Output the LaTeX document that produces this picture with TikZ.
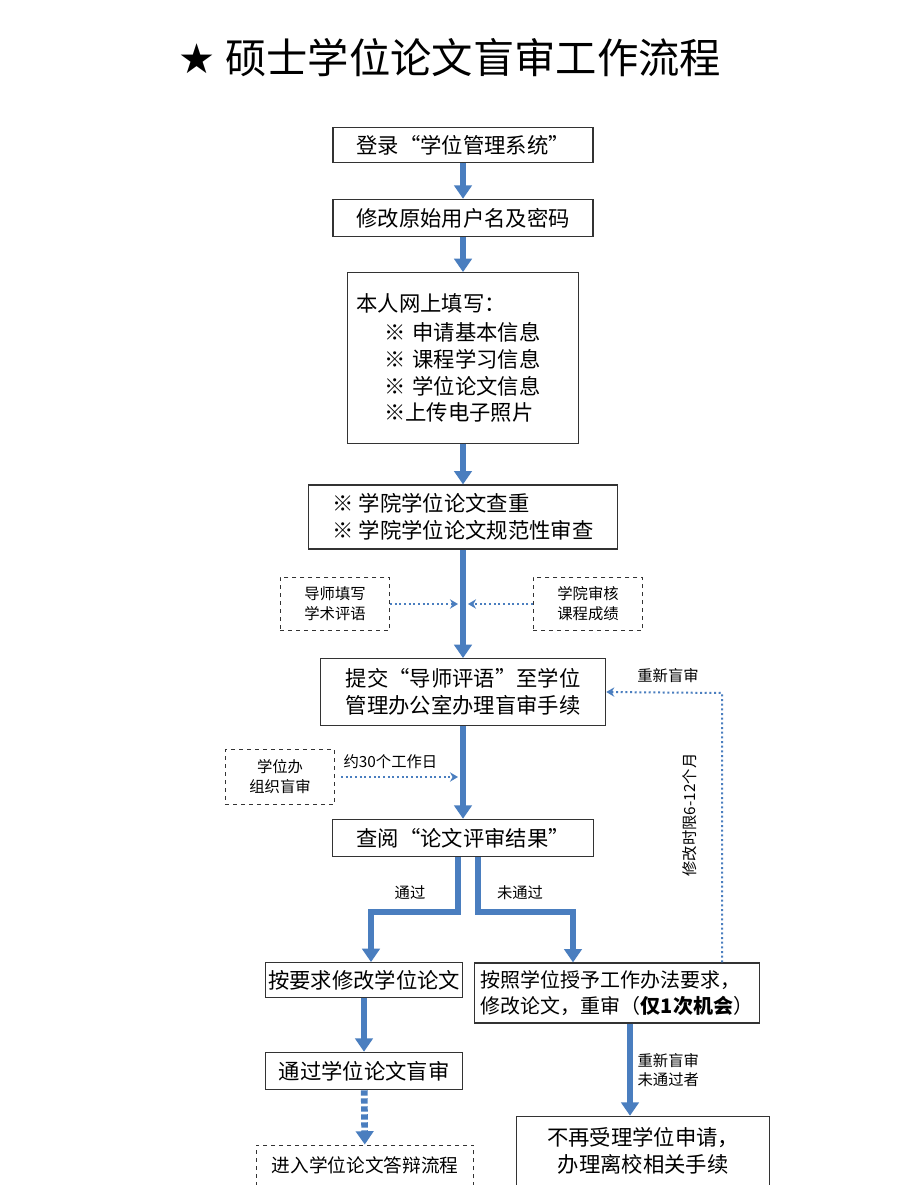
\documentclass[tikz,border=0pt]{standalone}
\usepackage{fontspec}
\setmainfont{Noto Sans CJK SC}
\newfontfamily\sym{DejaVu Sans}
\usetikzlibrary{arrows.meta}
\definecolor{fb}{HTML}{4A7EBF}
\begin{document}
\begin{tikzpicture}[x=0.75pt,y=-0.75pt,
 box/.style={draw=black!80,line width=0.9pt,inner sep=0pt,font=\fontsize{16}{20}\selectfont,align=center},
 dbox/.style={draw=black!80,dashed,line width=0.7pt,inner sep=0pt,font=\fontsize{11.5}{15}\selectfont,align=center},
 big/.style={draw=fb,line width=4pt,-{Triangle[width=13pt,length=10pt]}},
 dot/.style={draw=fb,line width=1.5pt,dotted,-{Stealth[width=7pt,length=6pt]}},
 lab/.style={font=\fontsize{11.5}{14}\selectfont,inner sep=1pt,align=left}]
\useasboundingbox (0,0) rectangle (898,1185);
\fill[white] (0,0) rectangle (898,1185);
\node[font=\fontsize{31}{36}\selectfont] (title) at (450,58) {{\sym ★} 硕士学位论文盲审工作流程};
\node[box,minimum width=195pt,minimum height=26pt] (a) at (463,145) {登录“学位管理系统”};
\node[box,minimum width=195pt,minimum height=28pt] (b) at (463,218) {修改原始用户名及密码};
\node[box,minimum width=173pt,minimum height=128pt,align=left,text width=160pt] (c) at (463,358) {本人网上填写：\\[2pt]\hspace{1.3em}※ 申请基本信息\\\hspace{1.3em}※ 课程学习信息\\\hspace{1.3em}※ 学位论文信息\\\hspace{1.3em}※上传电子照片};
\node[box,minimum width=232pt,minimum height=48pt,align=left] (d) at (463,517) {※ 学院学位论文查重\\※ 学院学位论文规范性审查};
\node[dbox,minimum width=82pt,minimum height=40pt] (e1) at (335,604) {导师填写\\学术评语};
\node[dbox,minimum width=82pt,minimum height=40pt] (e2) at (588,604) {学院审核\\课程成绩};
\node[box,minimum width=214pt,minimum height=50pt] (f) at (463,692) {提交“导师评语”至学位\\管理办公室办理盲审手续};
\node[dbox,minimum width=82pt,minimum height=41pt] (g) at (280,777) {学位办\\组织盲审};
\node[box,minimum width=196pt,minimum height=28pt] (h) at (463,838) {查阅“论文评审结果”};
\node[box,minimum width=148pt,minimum height=26pt] (i) at (364,980) {按要求修改学位论文};
\node[box,minimum width=214pt,minimum height=45pt,align=left,font=\fontsize{15}{19}\selectfont] (j) at (617,993) {按照学位授予工作办法要求，\\修改论文，重审（\textbf{仅1次机会}）};
\node[box,minimum width=148pt,minimum height=28pt] (k) at (364,1071) {通过学位论文盲审};
\node[dbox,minimum width=163pt,minimum height=30pt,font=\fontsize{14}{18}\selectfont] (l) at (365,1165) {进入学位论文答辩流程};
\node[box,minimum width=190pt,minimum height=52pt] (m) at (643,1151) {不再受理学位申请，\\办理离校相关手续};
\draw[big] (a) -- (b);
\draw[big] (b) -- (c);
\draw[big] (c) -- (d);
\draw[big] (d) -- (f);
\draw[big] (f) -- (h);
\draw[big] (h.south -| 458,0) |- (371,912) -- (i.north -| 371,0);
\draw[big] (h.south -| 478,0) |- (573,912) -- (j.north -| 573,0);
\draw[big] (i) -- (k);
\draw[big,dotted,line width=5pt] (k) -- (l);
\draw[big] (j.south -| 630,0) -- (m.north -| 630,0);
\draw[dot] (e1) -- (458,604);
\draw[dot] (e2) -- (468,604);
\coordinate (gt) at (458,777);
\draw[dot] (g.east) ++(6,0) -- (gt);
\node[lab,anchor=south west] (t30) at (342,770) {约30个工作日};
\coordinate (r1) at (722,693);
\draw[dot] (j.north -| 722,0) -- (r1) -- (f.east);
\node[lab] (rn) at (668,676) {重新盲审};
\node[lab,rotate=90] (xg) at (690,815) {修改时限6-12个月};
\node[lab] (tg) at (410,893) {通过};
\node[lab] (wt) at (520,893) {未通过};
\node[lab,anchor=west] (cx) at (636,1070) {重新盲审\\未通过者};
\end{tikzpicture}
\end{document}
